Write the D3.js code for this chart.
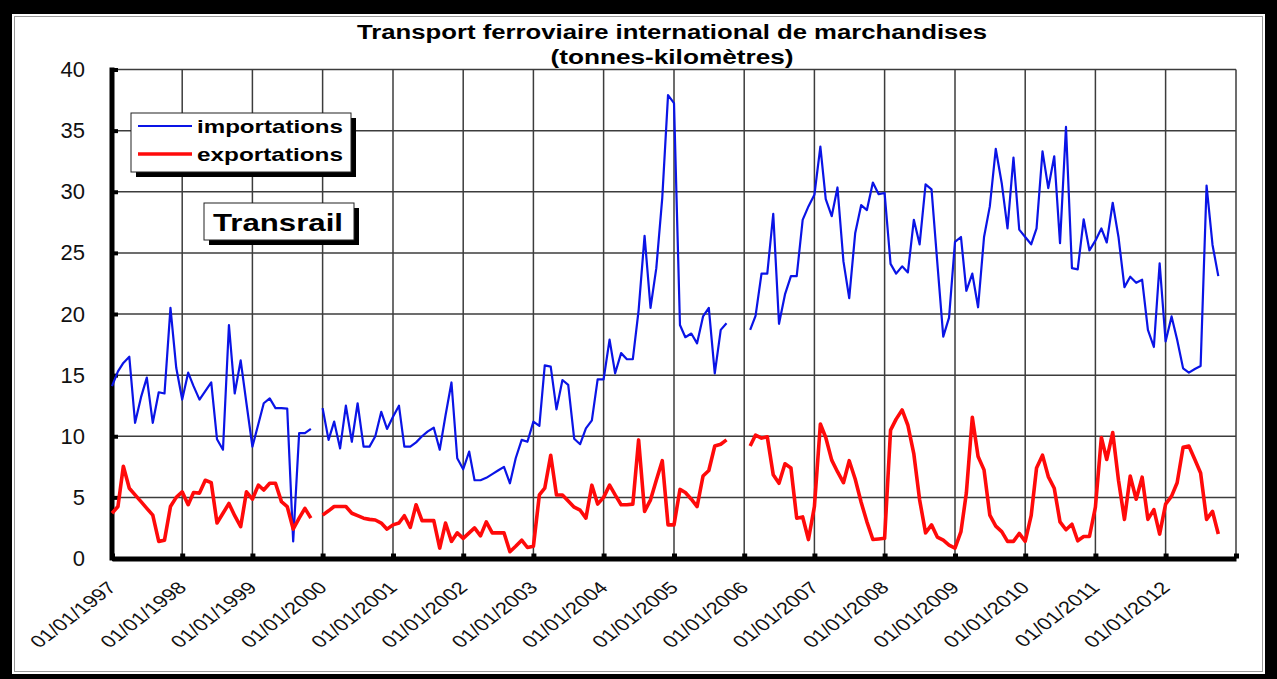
<!DOCTYPE html>
<html>
<head>
<meta charset="utf-8">
<script src="https://cdn.jsdelivr.net/npm/d3@7"></script>
<style>
  body { margin: 0; background: #fff; }
  text { font-family: "Liberation Sans", Arial, sans-serif; }
</style>
</head>
<body>
<script>
// monthly values, Jan 1997 .. Oct 2012 (null = no data)
const importations = [
  14.1, 15.3, 16.0, 16.5, 11.1, 13.2, 14.8, 11.1, 13.6, 13.5, 20.5, 15.6, // 1997
  13.0, 15.2, 14.1, 13.0, 13.7, 14.4, 9.75, 8.9, 19.1, 13.5, 16.2, 12.7, // 1998
  9.15, 11.0, 12.7, 13.1, 12.3, 12.3, 12.26, 1.4, 10.25, 10.25, 10.6, null, // 1999
  12.3, 9.7, 11.2, 9.0, 12.5, 9.55, 12.7, 9.15, 9.15, 10.0, 12.0, 10.6, // 2000
  11.6, 12.5, 9.15, 9.15, 9.5, 10.0, 10.4, 10.7, 8.9, 11.7, 14.4, 8.2, // 2001
  7.3, 8.75, 6.4, 6.4, 6.6, 6.9, 7.2, 7.5, 6.15, 8.2, 9.7, 9.55, // 2002
  11.2, 10.85, 15.8, 15.7, 12.2, 14.6, 14.2, 9.8, 9.35, 10.65, 11.3, 14.65, // 2003
  14.65, 17.9, 15.15, 16.8, 16.3, 16.3, 20.3, 26.4, 20.5, 23.75, 29.5, 37.9, // 2004
  37.25, 19.1, 18.1, 18.4, 17.6, 19.8, 20.5, 15.15, 18.7, 19.25, null, null, // 2005
  null, 18.7, 19.85, 23.3, 23.3, 28.2, 19.2, 21.6, 23.1, 23.1, 27.7, 28.8, // 2006
  29.75, 33.7, 29.4, 28.0, 30.35, 24.3, 21.3, 26.6, 28.9, 28.5, 30.75, 29.8, // 2007
  29.9, 24.1, 23.3, 23.9, 23.4, 27.7, 25.7, 30.6, 30.2, 24.2, 18.15, 19.7, // 2008
  25.9, 26.3, 21.9, 23.3, 20.55, 26.3, 28.8, 33.5, 30.7, 27.0, 32.8, 26.9, // 2009
  26.3, 25.7, 27.0, 33.3, 30.3, 32.9, 25.8, 35.3, 23.75, 23.65, 27.75, 25.2, // 2010
  26.0, 27.0, 25.85, 29.1, 26.3, 22.2, 23.05, 22.55, 22.8, 18.7, 17.3, 24.15, // 2011
  17.75, 19.8, 17.9, 15.55, 15.2, 15.5, 15.75, 30.5, 25.65, 23.1 // 2012
];
const exportations = [
  3.7, 4.25, 7.55, 5.75, 5.2, 4.65, 4.1, 3.55, 1.4, 1.5, 4.25, 5.0, // 1997
  5.45, 4.4, 5.4, 5.35, 6.4, 6.2, 2.9, 3.7, 4.5, 3.5, 2.6, 5.45, // 1998
  4.85, 6.0, 5.6, 6.15, 6.15, 4.65, 4.25, 2.4, 3.3, 4.1, 3.3, null, // 1999
  3.55, 3.9, 4.25, 4.25, 4.25, 3.7, 3.5, 3.3, 3.2, 3.15, 2.9, 2.4, // 2000
  2.75, 2.9, 3.5, 2.55, 4.4, 3.1, 3.1, 3.1, 0.85, 2.9, 1.4, 2.1, // 2001
  1.65, 2.1, 2.5, 1.85, 3.0, 2.1, 2.1, 2.1, 0.55, 1.0, 1.5, 0.9, // 2002
  1.0, 5.2, 5.75, 8.45, 5.2, 5.2, 4.7, 4.2, 3.95, 3.3, 6.0, 4.45, // 2003
  5.0, 6.0, 5.2, 4.4, 4.4, 4.45, 9.7, 3.85, 4.8, 6.4, 8.0, 2.75, // 2004
  2.75, 5.65, 5.4, 4.85, 4.25, 6.75, 7.2, 9.2, 9.35, 9.7, null, null, // 2005
  null, 9.2, 10.1, 9.85, 9.95, 6.85, 6.15, 7.75, 7.4, 3.3, 3.4, 1.55, // 2006
  4.25, 11.0, 9.9, 8.05, 7.1, 6.2, 8.0, 6.5, 4.6, 3.0, 1.55, 1.6, // 2007
  1.65, 10.5, 11.4, 12.15, 10.9, 8.55, 4.8, 2.1, 2.75, 1.75, 1.5, 1.1, // 2008
  0.85, 2.2, 5.35, 11.55, 8.35, 7.25, 3.55, 2.65, 2.2, 1.4, 1.4, 2.05, // 2009
  1.4, 3.5, 7.4, 8.45, 6.7, 5.75, 3.0, 2.35, 2.8, 1.45, 1.8, 1.8, // 2010
  4.2, 9.9, 8.1, 10.3, 6.4, 3.2, 6.75, 4.85, 6.65, 3.2, 4.0, 2.0, // 2011
  4.45, 5.1, 6.2, 9.1, 9.2, 8.1, 7.0, 3.2, 3.85, 2.0 // 2012
];
const yearLabels = ["01/01/1997", "01/01/1998", "01/01/1999", "01/01/2000", "01/01/2001",
  "01/01/2002", "01/01/2003", "01/01/2004", "01/01/2005", "01/01/2006", "01/01/2007",
  "01/01/2008", "01/01/2009", "01/01/2010", "01/01/2011", "01/01/2012"];
const yTicks = [0, 5, 10, 15, 20, 25, 30, 35, 40];

const w = 1277;
const h = 679;
const months = d3.timeMonths(new Date(1997, 0, 1), new Date(2012, 10, 1));
const parse = d3.timeParse("%d/%m/%Y");

const svg = d3.select("body").append("svg").attr("width", w).attr("height", h);

// frame
svg.append("rect").attr("width", w).attr("height", h).attr("fill", "black");
svg.append("rect").attr("x", 12).attr("y", 14).attr("width", 1253).attr("height", 660).attr("fill", "white");
svg.append("rect").attr("x", 14.5).attr("y", 16.5).attr("width", 1248).attr("height", 655)
  .attr("fill", "none").attr("stroke", "#999").attr("stroke-width", 1);

const x = d3.scaleTime()
  .domain([new Date(1997, 0, 1), new Date(2013, 0, 1)])
  .range([112, 1236]);
const y = d3.scaleLinear().domain([0, 40]).range([558.5, 69.5]);

// title
svg.append("text").attr("x", 672).attr("y", 39).attr("text-anchor", "middle")
  .attr("font-size", 20).attr("font-weight", "bold")
  .attr("textLength", 630).attr("lengthAdjust", "spacingAndGlyphs")
  .text("Transport ferroviaire international de marchandises");
svg.append("text").attr("x", 672).attr("y", 64).attr("text-anchor", "middle")
  .attr("font-size", 20).attr("font-weight", "bold")
  .attr("textLength", 243).attr("lengthAdjust", "spacingAndGlyphs")
  .text("(tonnes-kilomètres)");

// grid
const grid = svg.append("g").attr("stroke", "#3c3c3c").attr("stroke-width", 1.5);
grid.selectAll(".hg").data(yTicks.slice(1)).join("line")
  .attr("x1", x.range()[0]).attr("x2", x.range()[1])
  .attr("y1", d => y(d)).attr("y2", d => y(d));
const yearTicks = yearLabels.map(parse).concat([new Date(2013, 0, 1)]);
grid.selectAll(".vg").data(yearTicks.slice(1)).join("line")
  .attr("x1", d => x(d)).attr("x2", d => x(d))
  .attr("y1", y(40)).attr("y2", y(0));

// y axis
const yAxis = svg.append("g").attr("transform", `translate(${x.range()[0]},0)`)
  .call(d3.axisLeft(y).tickValues(yTicks).tickSize(-6).tickSizeOuter(0).tickPadding(27));
yAxis.select(".domain").attr("stroke-width", 5).attr("d", `M0,${y(40) - 2}V${y(0) + 2}`);
yAxis.selectAll(".tick line").attr("stroke-width", 4);
yAxis.selectAll(".tick text").attr("font-size", 22).attr("fill", "#111")
  .style("font-family", "'Liberation Sans', Arial, sans-serif");

// x axis
const xAxis = svg.append("g").attr("transform", `translate(0,${y(0)})`)
  .call(d3.axisBottom(x).tickValues(yearTicks).tickSize(-5).tickSizeOuter(0).tickFormat(""));
xAxis.select(".domain").attr("stroke-width", 5);
xAxis.selectAll(".tick line").attr("stroke-width", 5);

// the labels in the source look a bit stretched sideways
svg.append("g").selectAll("text").data(yearLabels).join("text")
  .attr("transform", d => `translate(${x(parse(d))},${y(0) + 26}) scale(1.3,1) rotate(-45)`)
  .attr("text-anchor", "end").attr("dy", "0.35em")
  .attr("font-size", 17).attr("fill", "#111")
  .text(d => d);

// lines
const line = d3.line()
  .defined(d => d[1] != null)
  .x(d => x(d[0]))
  .y(d => y(d[1]));

svg.append("path").datum(months.map((m, i) => [m, importations[i]]))
  .attr("fill", "none").attr("stroke", "#0a14e6").attr("stroke-width", 2.2)
  .attr("stroke-linejoin", "round").attr("d", line);
svg.append("path").datum(months.map((m, i) => [m, exportations[i]]))
  .attr("fill", "none").attr("stroke", "#ff0a0a").attr("stroke-width", 3.6)
  .attr("stroke-linejoin", "round").attr("d", line);

// legend
function boxWithShadow(bx, by, bw, bh) {
  svg.append("rect").attr("x", bx + 5).attr("y", by + 5).attr("width", bw).attr("height", bh)
    .attr("fill", "black");
  svg.append("rect").attr("x", bx).attr("y", by).attr("width", bw).attr("height", bh)
    .attr("fill", "white").attr("stroke", "#222").attr("stroke-width", 1);
}

boxWithShadow(131, 113, 220, 59);
const legendItems = [
  { name: "importations", color: "#0a14e6", width: 2.2 },
  { name: "exportations", color: "#ff0a0a", width: 3.6 }
];
legendItems.forEach((item, i) => {
  const ly = 126 + i * 28;
  svg.append("line").attr("x1", 138).attr("x2", 192).attr("y1", ly).attr("y2", ly)
    .attr("stroke", item.color).attr("stroke-width", item.width);
  svg.append("text").attr("x", 197).attr("y", ly + 7)
    .attr("font-size", 19).attr("font-weight", "bold")
    .attr("textLength", 146).attr("lengthAdjust", "spacingAndGlyphs")
    .text(item.name);
});

boxWithShadow(204, 203, 150, 37);
svg.append("text").attr("x", 213).attr("y", 231)
  .attr("font-size", 24).attr("font-weight", "bold")
  .attr("textLength", 130).attr("lengthAdjust", "spacingAndGlyphs")
  .text("Transrail");
</script>
</body>
</html>
